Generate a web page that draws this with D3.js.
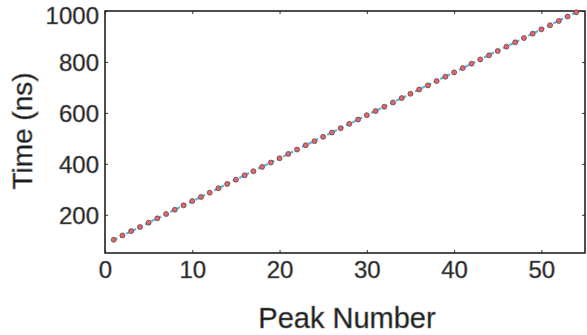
<!DOCTYPE html>
<html>
<head>
<meta charset="utf-8">
<script src="https://cdn.jsdelivr.net/npm/d3@7"></script>
<style>
  body { margin: 0; background: #fff; }
  text { font-family: "Liberation Sans", Arial, sans-serif; fill: #1a1a1a; stroke: #777; stroke-width: 0.6px; }
</style>
</head>
<body>
<div id="chart"></div>
<script>
// peak index
const peaks = d3.range(1, 55);
// measured peak times (ns)
const measured = [102, 119, 136, 152, 169, 186, 203, 220, 237, 254,
  270, 287, 304, 321, 338, 355, 371, 388, 405, 422,
  439, 456, 473, 489, 506, 523, 540, 557, 574, 591,
  607, 624, 641, 658, 675, 692, 708, 725, 742, 759,
  776, 793, 810, 826, 843, 860, 877, 894, 911, 928,
  944, 961, 978, 995];
// fitted peak times (ns)
const fitted = [101, 118, 135, 152, 169, 186, 203, 220, 237, 253,
  270, 287, 304, 321, 338, 355, 372, 389, 405, 422,
  439, 456, 473, 490, 507, 523, 540, 557, 574, 591,
  608, 625, 641, 658, 675, 692, 709, 726, 743, 759,
  776, 793, 810, 827, 844, 861, 877, 894, 911, 928,
  945, 962, 979, 995];
const xTicks = [0, 10, 20, 30, 40, 50];
const yTicks = [200, 400, 600, 800, 1000];

const width = 587, height = 335;
const margin = {top: 11, right: 2, bottom: 82, left: 105};
const w = width - margin.left - margin.right;
const h = height - margin.top - margin.bottom;

const svg = d3.select("#chart").append("svg")
  .attr("width", width)
  .attr("height", height);

const g = svg.append("g")
  .attr("transform", "translate(" + margin.left + "," + margin.top + ")");

const xScale = d3.scaleLinear().domain([0, 55]).range([0, w]);
const yScale = d3.scaleLinear().domain([50, 1000]).range([h, 0]);

// axes, ticks pointing inward like matlab
const axisB = d3.axisBottom(xScale).tickValues(xTicks).tickFormat(d3.format("d"))
  .tickSizeInner(-3).tickSizeOuter(0).tickPadding(8);
const axisL = d3.axisLeft(yScale).tickValues(yTicks).tickFormat(d3.format("d"))
  .tickSizeInner(-3).tickSizeOuter(0).tickPadding(6);
const axisT = d3.axisTop(xScale).tickValues(xTicks).tickSizeInner(-3).tickSizeOuter(0).tickFormat("");
const axisR = d3.axisRight(yScale).tickValues(yTicks).tickSizeInner(-3).tickSizeOuter(0).tickFormat("");

const gx = g.append("g").attr("transform", "translate(0," + h + ")").call(axisB);
const gy = g.append("g").call(axisL);
g.append("g").call(axisT);
g.append("g").attr("transform", "translate(" + w + ",0)").call(axisR);

g.selectAll(".domain").remove();
g.selectAll(".tick line").attr("stroke", "#333").attr("stroke-width", 1);
gx.selectAll("text").style("font-size", "24px").attr("dy", "0.71em");
// top label sits against the window edge, nudge it down a bit
gy.selectAll("text").style("font-size", "24px")
  .attr("dy", d => d === 1000 ? "0.5em" : "0.36em");

g.append("rect")
  .attr("width", w).attr("height", h)
  .attr("fill", "none")
  .attr("stroke", "#222")
  .attr("stroke-width", 1.6);

// fitted line, dashed light blue
const line = d3.line()
  .x((d, i) => xScale(peaks[i]))
  .y(d => yScale(d));

g.append("path")
  .datum(fitted)
  .attr("d", line)
  .attr("fill", "none")
  .attr("stroke", "#5bb8e0")
  .attr("stroke-width", 2.2)
  .attr("stroke-dasharray", "4,3");

// measured points, red circles
g.selectAll(".pt")
  .data(measured)
  .enter()
  .append("circle")
  .attr("class", "pt")
  .attr("cx", (d, i) => xScale(peaks[i]))
  .attr("cy", d => yScale(d))
  .attr("r", 2.5)
  .attr("fill", "#e06868")
  .attr("stroke", "#5a3a4a")
  .attr("stroke-width", 0.7);

// axis labels
svg.append("text")
  .attr("x", 347)
  .attr("y", 328)
  .attr("text-anchor", "middle")
  .style("font-size", "29px")
  .text("Peak Number");

svg.append("text")
  .attr("transform", "translate(32,131) rotate(-90)")
  .attr("text-anchor", "middle")
  .style("font-size", "28px")
  .text("Time (ns)");
</script>
</body>
</html>
